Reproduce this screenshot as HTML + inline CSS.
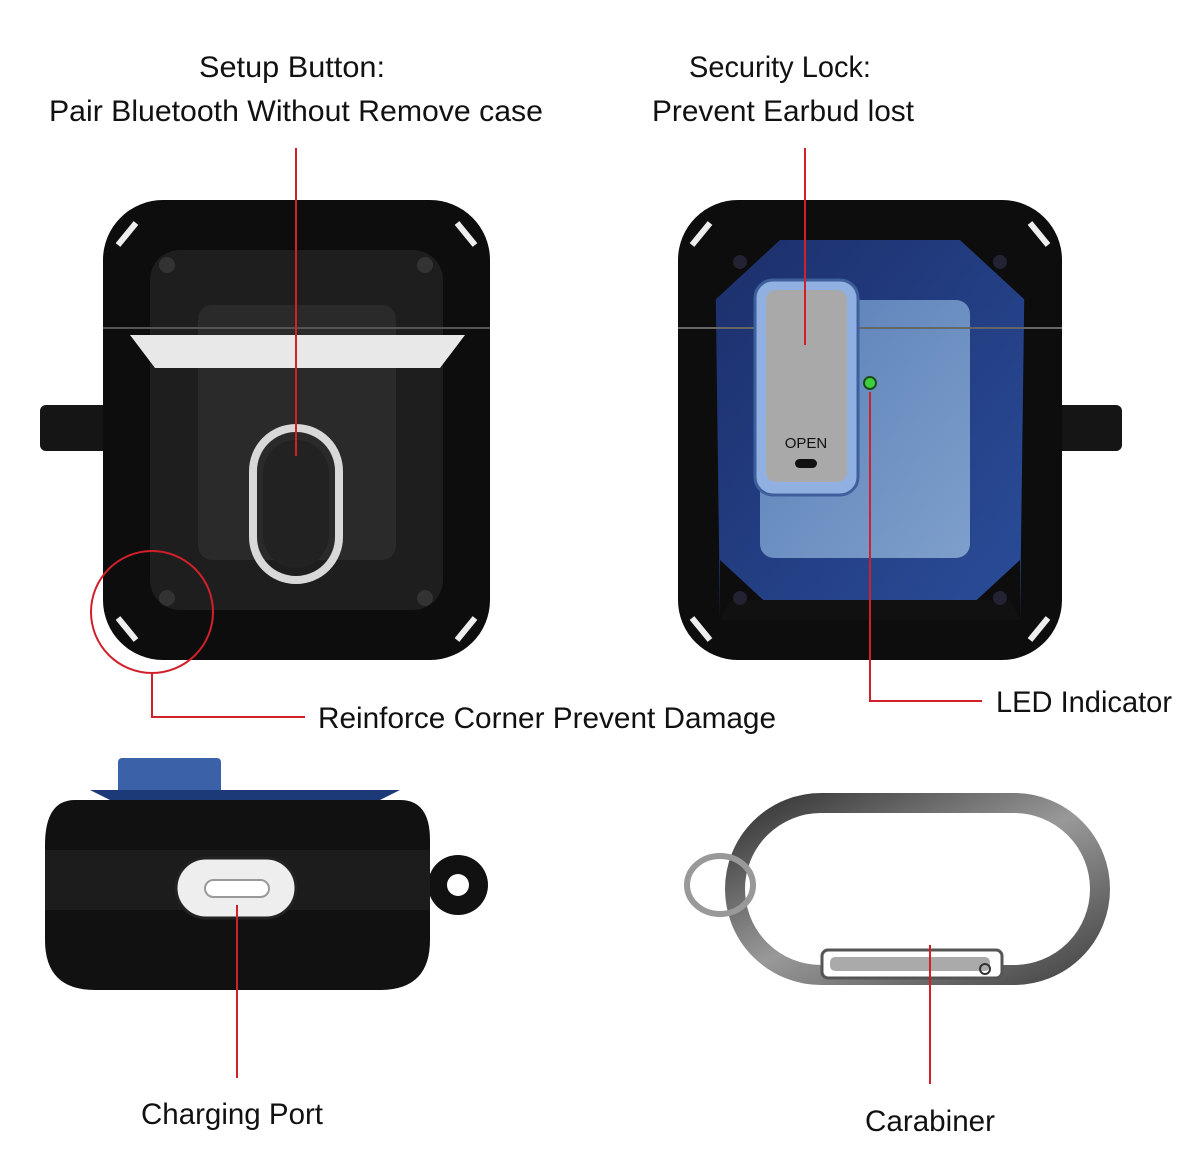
<!DOCTYPE html>
<html><head><meta charset="utf-8"><style>
html,body{margin:0;padding:0;background:#fff;}
svg{display:block}
text{font-family:"Liberation Sans",sans-serif;fill:#111;}
</style></head><body>
<svg width="1200" height="1169" viewBox="0 0 1200 1169" xmlns="http://www.w3.org/2000/svg">
<defs>
<linearGradient id="blue" x1="0" y1="0" x2="1" y2="1"><stop offset="0" stop-color="#1c2f6b"/><stop offset="1" stop-color="#2a4d9a"/></linearGradient>
<linearGradient id="lblue" x1="0" y1="0" x2="1" y2="1"><stop offset="0" stop-color="#5a7fb8"/><stop offset="1" stop-color="#7e9fcb"/></linearGradient>
<linearGradient id="metal" x1="0" y1="0" x2="1" y2="1"><stop offset="0" stop-color="#333"/><stop offset=".5" stop-color="#999"/><stop offset="1" stop-color="#444"/></linearGradient>
</defs>
<text x="292" y="77" font-size="30" text-anchor="middle" textLength="186" lengthAdjust="spacingAndGlyphs">Setup Button:</text>
<text x="296" y="121" font-size="30" text-anchor="middle" textLength="494" lengthAdjust="spacingAndGlyphs">Pair Bluetooth Without Remove case</text>
<text x="780" y="77" font-size="30" text-anchor="middle" textLength="182" lengthAdjust="spacingAndGlyphs">Security Lock:</text>
<text x="783" y="121" font-size="30" text-anchor="middle" textLength="262" lengthAdjust="spacingAndGlyphs">Prevent Earbud lost</text>

<!-- Left case -->
<rect x="40" y="405" width="80" height="46" rx="6" fill="#151515"/>
<rect x="103" y="200" width="387" height="460" rx="60" fill="#0d0d0d"/>
<rect x="150" y="250" width="293" height="360" rx="30" fill="#1e1e1e"/>
<rect x="198" y="305" width="198" height="255" rx="14" fill="#2a2a2a"/>
<path d="M130 335 L465 335 L440 368 L155 368 Z" fill="#e8e8e8"/>
<line x1="103" y1="328" x2="490" y2="328" stroke="#555" stroke-width="2"/>
<rect x="253" y="428" width="86" height="152" rx="43" fill="none" stroke="#d8d8d8" stroke-width="8"/>
<rect x="263" y="440" width="66" height="128" rx="33" fill="#222"/>
<circle cx="167" cy="265" r="8" fill="#333"/><circle cx="425" cy="265" r="8" fill="#333"/>
<circle cx="167" cy="598" r="8" fill="#333"/><circle cx="425" cy="598" r="8" fill="#333"/>
<path d="M118 245 l18 -22" stroke="#eee" stroke-width="6"/><path d="M475 245 l-18 -22" stroke="#eee" stroke-width="6"/>
<path d="M118 618 l18 22" stroke="#eee" stroke-width="6"/><path d="M475 618 l-18 22" stroke="#eee" stroke-width="6"/>

<!-- Right case -->
<rect x="1040" y="405" width="82" height="46" rx="6" fill="#151515"/>
<rect x="678" y="200" width="384" height="460" rx="60" fill="#0d0d0d"/>
<path d="M715 240 L1025 240 L1020 620 L720 620 Z" fill="url(#blue)"/>
<rect x="760" y="300" width="210" height="258" rx="14" fill="url(#lblue)"/>
<path d="M715 240 L780 240 L715 300 Z M1025 240 L960 240 L1025 300 Z M720 620 L785 620 L720 560 Z M1020 620 L955 620 L1020 560 Z" fill="#0d0d0d"/>
<path d="M730 600 L1010 600 L1020 620 L720 620 Z" fill="#111"/>
<line x1="678" y1="328" x2="1062" y2="328" stroke="#666" stroke-width="2"/>
<rect x="755" y="280" width="103" height="215" rx="18" fill="#8fb0e0" stroke="#3d5f9c" stroke-width="3"/>
<rect x="766" y="290" width="81" height="192" rx="10" fill="#a9a9a9"/>
<text x="806" y="448" font-size="15" text-anchor="middle" fill="#222">OPEN</text>
<rect x="795" y="459" width="22" height="9" rx="4.5" fill="#111"/>
<circle cx="870" cy="383" r="6" fill="#3ecf3e" stroke="#1a4d1a" stroke-width="2"/>
<circle cx="740" cy="262" r="7" fill="#223"/><circle cx="1000" cy="262" r="7" fill="#223"/>
<circle cx="740" cy="598" r="7" fill="#223"/><circle cx="1000" cy="598" r="7" fill="#223"/>
<path d="M692 245 l18 -22" stroke="#eee" stroke-width="6"/><path d="M1048 245 l-18 -22" stroke="#eee" stroke-width="6"/>
<path d="M692 618 l18 22" stroke="#eee" stroke-width="6"/><path d="M1048 618 l-18 22" stroke="#eee" stroke-width="6"/>

<!-- Bottom left side view -->
<rect x="118" y="758" width="103" height="40" rx="4" fill="#3b62a8"/>
<path d="M90 790 L110 800 L380 800 L400 790 Z" fill="#1d3a78"/>
<circle cx="458" cy="885" r="30" fill="#111"/><circle cx="458" cy="885" r="11" fill="#fff"/>
<path d="M75 800 L400 800 Q430 800 430 840 L430 940 Q430 990 380 990 L95 990 Q45 990 45 940 L45 845 Q45 800 75 800 Z" fill="#111"/>
<rect x="45" y="850" width="385" height="60" fill="#1c1c1c"/>
<rect x="176" y="858" width="120" height="60" rx="30" fill="#eee" stroke="#222" stroke-width="3"/>
<rect x="205" y="880" width="64" height="17" rx="8.5" fill="#fff" stroke="#999" stroke-width="2"/>

<!-- Carabiner -->
<rect x="735" y="803" width="365" height="172" rx="86" fill="none" stroke="url(#metal)" stroke-width="20"/>
<rect x="822" y="950" width="180" height="28" rx="6" fill="#fff" stroke="#555" stroke-width="3"/>
<rect x="830" y="957" width="160" height="14" rx="5" fill="#aaa"/>
<circle cx="985" cy="969" r="5" fill="none" stroke="#333" stroke-width="2"/>
<ellipse cx="720" cy="885" rx="33" ry="29" fill="none" stroke="#999" stroke-width="6"/>

<g stroke="#d0202a" stroke-width="2" fill="none">
<line x1="296" y1="148" x2="296" y2="456"/>
<line x1="805" y1="148" x2="805" y2="345"/>
<circle cx="152" cy="612" r="61"/>
<polyline points="152,673 152,717 305,717"/>
<polyline points="870,392 870,701 982,701"/>
<line x1="237" y1="905" x2="237" y2="1078"/>
<line x1="930" y1="945" x2="930" y2="1084"/>
</g>

<text x="318" y="728" font-size="30" textLength="458" lengthAdjust="spacingAndGlyphs">Reinforce Corner Prevent Damage</text>
<text x="996" y="712" font-size="30" textLength="176" lengthAdjust="spacingAndGlyphs">LED Indicator</text>
<text x="232" y="1124" font-size="30" text-anchor="middle" textLength="182" lengthAdjust="spacingAndGlyphs">Charging Port</text>
<text x="930" y="1131" font-size="30" text-anchor="middle" textLength="130" lengthAdjust="spacingAndGlyphs">Carabiner</text>
</svg>
</body></html>
